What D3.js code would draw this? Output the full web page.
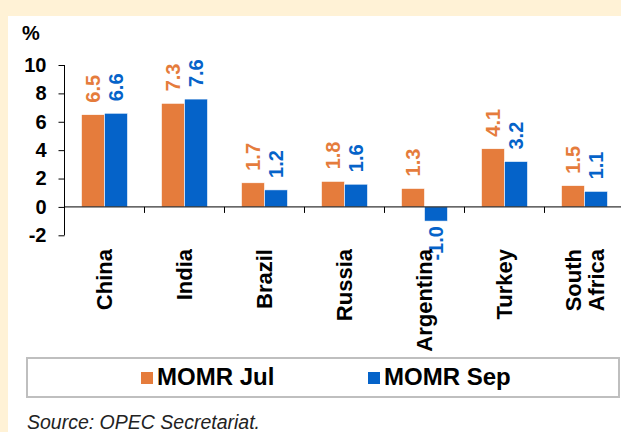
<!DOCTYPE html>
<html>
<head>
<meta charset="utf-8">
<script src="https://cdn.jsdelivr.net/npm/d3@7"></script>
<style>
  body { margin: 0; background: #fff2d6; }
  svg { display: block; font-family: "Liberation Sans", Arial, sans-serif; }
</style>
</head>
<body>
<div id="chart"></div>
<script>
var categories = ["China", "India", "Brazil", "Russia", "Argentina", "Turkey", "South\nAfrica"]
var series = ["MOMR Jul", "MOMR Sep"]
var momrJul = [6.5, 7.3, 1.7, 1.8, 1.3, 4.1, 1.5]
var momrSep = [6.6, 7.6, 1.2, 1.6, -1.0, 3.2, 1.1]
var yTicks = [-2, 0, 2, 4, 6, 8, 10]
var colors = {"MOMR Jul": "#e57c3c", "MOMR Sep": "#0563c9"}

var width = 621, height = 432
var svg = d3.select("#chart").append("svg").attr("width", width).attr("height", height)

// cream frame + white panel
svg.append("rect").attr("width", width).attr("height", height).attr("fill", "#fff2d6")
svg.append("rect").attr("x", 8).attr("y", 16).attr("width", width - 8).attr("height", height - 16).attr("fill", "#fff")

var y = d3.scaleLinear().domain([-2, 10]).range([235.3, 65])
var x = d3.scaleBand().domain(categories).range([64.5, 624.5])
var xs = d3.scaleBand().domain(series).range([x.bandwidth() / 2 - 23, x.bandwidth() / 2 + 23])

var rows = categories.map(function(c, i) {
  return {cat: c, vals: [{s: "MOMR Jul", v: momrJul[i]}, {s: "MOMR Sep", v: momrSep[i]}]}
})

// y axis
var yAxis = svg.append("g").attr("transform", "translate(64.5,0)")
  .call(d3.axisLeft(y).tickValues(yTicks).tickSize(6).tickPadding(12).tickFormat(function(d) { return String(d) }))
yAxis.select(".domain").attr("d", "M0," + y(-2) + "V" + y(10)).attr("stroke", "#000")
yAxis.selectAll(".tick line").attr("stroke", "#000")
yAxis.selectAll("text").attr("font-size", 20).attr("font-weight", "bold").attr("fill", "#000")

svg.append("text").attr("x", 22).attr("y", 40).text("%")
  .attr("font-size", 20).attr("font-weight", "bold")

// bars
var groups = svg.selectAll(".grp").data(rows).enter().append("g")
  .attr("transform", function(d) { return "translate(" + x(d.cat) + ",0)" })

groups.selectAll("rect").data(function(d) { return d.vals }).enter().append("rect")
  .attr("x", function(d) { return xs(d.s) })
  .attr("width", xs.bandwidth())
  .attr("y", function(d) { return y(Math.max(0, d.v)) })
  .attr("height", function(d) { return Math.abs(y(d.v) - y(0)) })
  .attr("fill", function(d) { return colors[d.s] })
  .attr("stroke", "#fff").attr("stroke-width", 0.6)

groups.selectAll(".val").data(function(d) { return d.vals }).enter().append("text")
  .attr("transform", function(d) {
    var ty = d.v >= 0 ? y(d.v) - 12 : y(d.v) + 5
    return "translate(" + (xs(d.s) + xs.bandwidth() / 2) + "," + ty + ")rotate(-90)"
  })
  .attr("text-anchor", function(d) { return d.v >= 0 ? "start" : "end" })
  .attr("dy", "0.35em")
  .attr("font-size", 20).attr("font-weight", "bold")
  .attr("fill", function(d) { return colors[d.s] })
  .text(function(d) { return d.v.toFixed(1) })

// x axis
var xAxis = svg.append("g").attr("transform", "translate(0," + y(0) + ")")
  .call(d3.axisBottom(x).tickSize(0).tickFormat(""))
xAxis.select(".domain").attr("d", "M64.5,0H" + width).attr("stroke", "#000")
xAxis.selectAll(".tick").remove()
var bounds = categories.map(function(c) { return x(c) })
xAxis.selectAll(".sep").data(bounds).enter().append("line")
  .attr("x1", function(d) { return d }).attr("x2", function(d) { return d })
  .attr("y1", 0).attr("y2", 6).attr("stroke", "#000")

// category labels
categories.forEach(function(c) {
  var lines = c.split("\n")
  lines.forEach(function(l, j) {
    var cx = x(c) + x.bandwidth() / 2 + (j - (lines.length - 1) / 2) * 23
    svg.append("text")
      .attr("transform", "translate(" + cx + ",249)rotate(-90)")
      .attr("text-anchor", "end").attr("dy", "0.35em")
      .attr("font-size", 22).attr("font-weight", "bold")
      .text(l)
  })
})

// legend
svg.append("rect").attr("x", 27).attr("y", 358).attr("width", 592).attr("height", 39)
  .attr("fill", "#fff").attr("stroke", "#bfbfbf").attr("stroke-width", 2)
var legX = [141, 368]
series.forEach(function(s, i) {
  svg.append("rect").attr("x", legX[i]).attr("y", 372).attr("width", 12).attr("height", 12)
    .attr("fill", colors[s])
  svg.append("text").attr("x", legX[i] + 16).attr("y", 385)
    .attr("font-size", 24).attr("font-weight", "bold").text(s)
})

svg.append("text").attr("x", 27).attr("y", 429).attr("font-size", 19.5).attr("font-style", "italic")
  .attr("fill", "#222").text("Source: OPEC Secretariat.")
</script>
</body>
</html>
